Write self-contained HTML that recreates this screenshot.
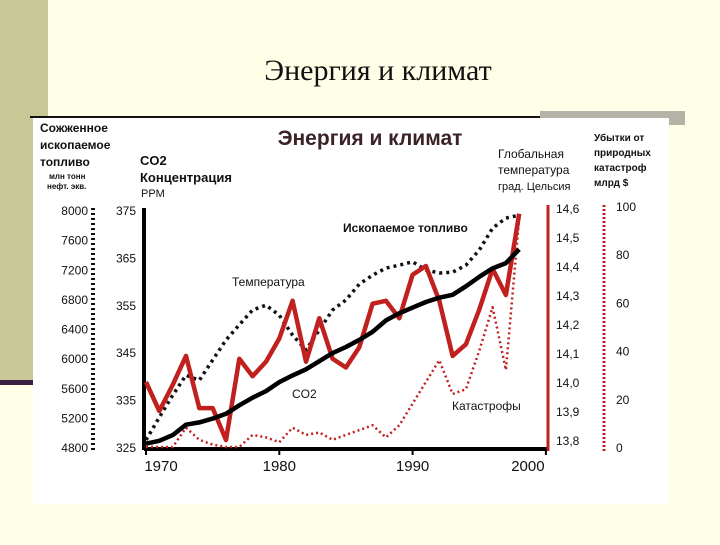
<!DOCTYPE html>
<html><head><meta charset="utf-8"><style>
body{margin:0;width:720px;height:540px;background:#FFFEE6;overflow:hidden;font-family:"Liberation Sans",sans-serif}
</style></head><body>
<svg width="720" height="540" xmlns="http://www.w3.org/2000/svg">
<rect x="0" y="0" width="48" height="382" fill="#C8C796"/>
<rect x="0" y="380" width="35" height="5" fill="#3A2040"/>
<text x="378" y="80" text-anchor="middle" font-family="Liberation Serif" font-size="30" fill="#111">Энергия и климат</text>
<rect x="540" y="111" width="145" height="14" fill="#B5B3A8"/>
<rect x="33" y="118" width="636" height="386" fill="#fff"/>
<line x1="30" y1="117" x2="540" y2="117" stroke="#111" stroke-width="2"/>
<g font-weight="bold" fill="#222"><text x="370" y="145" text-anchor="middle" font-size="21" fill="#3a2226">Энергия и климат</text></g>
<g font-size="12" font-weight="bold" fill="#111">
<text x="40" y="132">Сожженное</text><text x="40" y="149">ископаемое</text><text x="40" y="166">топливо</text>
<text x="49" y="179" font-size="8">млн тонн</text><text x="47" y="189" font-size="8">нефт. экв.</text>
<text x="140" y="165" font-size="13">CO2</text><text x="140" y="182" font-size="13">Концентрация</text><text x="141" y="197" font-size="11" font-weight="normal">PPM</text>
<text x="498" y="158" font-weight="normal">Глобальная</text><text x="498" y="174" font-weight="normal">температура</text><text x="498" y="190" font-weight="normal" font-size="11">град. Цельсия</text>
<text x="594" y="141" font-size="10">Убытки от</text><text x="594" y="156" font-size="10">природных</text><text x="594" y="171" font-size="10">катастроф</text><text x="594" y="186" font-size="10">млрд $</text>
</g>
<g id="axes"></g><g id="series"></g>
<g font-size="12" fill="#111">
<text x="343" y="232" font-weight="bold">Ископаемое топливо</text>
<text x="232" y="286">Температура</text>
<text x="292" y="398">CO2</text>
<text x="452" y="410">Катастрофы</text>
</g>
</svg>
<script>
const years=[1970,1971,1972,1973,1974,1975,1976,1977,1978,1979,1980,1981,1982,1983,1984,1985,1986,1987,1988,1989,1990,1991,1992,1993,1994,1995,1996,1997,1998];
const temp=[14.0,13.9,13.99,14.09,13.91,13.91,13.8,14.08,14.02,14.07,14.15,14.28,14.07,14.22,14.08,14.05,14.12,14.27,14.28,14.22,14.37,14.4,14.28,14.09,14.13,14.25,14.39,14.3,14.58];
const fuel=[4895,5200,5500,5770,5700,5975,6245,6450,6650,6715,6580,6310,6110,6380,6650,6785,7000,7120,7215,7255,7300,7190,7150,7160,7255,7460,7755,7890,7930];
const co2=[325.7,326.3,327.5,329.7,330.2,331,332,333.8,335.4,336.8,338.7,340.1,341.4,343.1,344.8,346.1,347.6,349.3,351.7,353.2,354.4,355.6,356.5,357.1,358.9,360.9,362.7,363.8,366.7];
const cat=[0,0,0,8,3,1,0,0,5,4,2,8,5,6,3,5,7,9,4,9,18,27,36,22,24,40,58,32,95];
const fuelTicks=[8000,7600,7200,6800,6400,6000,5600,5200,4800];
const co2Ticks=[375,365,355,345,335,325];
const tempTicks=[14.6,14.5,14.4,14.3,14.2,14.1,14.0,13.9,13.8];
const tempLabels=["14,6","14,5","14,4","14,3","14,2","14,1","14,0","13,9","13,8"];
const catTicks=[100,80,60,40,20,0];
const xTicks=[1970,1980,1990,2000];
const X=y=>146+(y-1970)*13.33;
const Yf=v=>447-(v-4800)*(237/3200);
const Yc=v=>447-(v-325)*(237/50);
const Yt=v=>440-(v-13.8)*290;
const Yk=v=>447-v*2.41;
const NS="http://www.w3.org/2000/svg";
function mk(t,a,p){const e=document.createElementNS(NS,t);for(const k in a)e.setAttribute(k,a[k]);p.appendChild(e);return e;}
const ax=document.getElementById('axes'),se=document.getElementById('series');
let l=mk('line',{x1:93,y1:208,x2:93,y2:452,stroke:'#111','stroke-width':4,'stroke-dasharray':'2 3'},ax);


l=mk('line',{x1:144,y1:208,x2:144,y2:450,stroke:'#000','stroke-width':4},ax);


l=mk('line',{x1:144,y1:449,x2:548,y2:449,stroke:'#000','stroke-width':4},ax);


l=mk('line',{x1:548,y1:205,x2:548,y2:451,stroke:'#C0201E','stroke-width':3},ax);


l=mk('line',{x1:604,y1:205,x2:604,y2:451,stroke:'#C0201E','stroke-width':3,'stroke-dasharray':'2 2'},ax);


function tick(x,y,txt,anchor,name,fs){const t=mk('text',{x:x,y:y,'text-anchor':anchor,'font-size':fs||12,fill:'#111'},ax);t.textContent=txt;

}
fuelTicks.forEach(v=>tick(88,Yf(v)+5,v,'end','fuel-tick-label'));
co2Ticks.forEach(v=>tick(136,Yc(v)+5,v,'end','co2-tick-label'));
tempTicks.forEach((v,i)=>tick(556,Yt(v)+5,tempLabels[i],'start','temp-tick-label'));
catTicks.forEach(v=>tick(616,Yk(v)+5,v,'start','catastrophe-tick-label'));
xTicks.forEach(v=>{tick(X(v)+(v==1970?15:v==2000?-18:0),471,v,'middle','x-tick-label',15);
const k=mk('line',{x1:X(v),y1:449,x2:X(v),y2:455,stroke:'#000','stroke-width':2},ax);

});
function path(vals,fy,attrs,name){const d=vals.map((v,i)=>(i?'L':'M')+X(years[i]).toFixed(1)+','+fy(v).toFixed(1)).join('');
const p=mk('path',Object.assign({d:d,fill:'none','stroke-linejoin':'round'},attrs),se);

}
path(cat,Yk,{stroke:'#C0201E','stroke-width':2.5,'stroke-dasharray':'2 3'},'catastrophe-line');
path(fuel,Yf,{stroke:'#111','stroke-width':3.5,'stroke-dasharray':'3 4'},'fuel-line');
path(temp,Yt,{stroke:'#C0201E','stroke-width':4.5},'temperature-line');
path(co2,Yc,{stroke:'#000','stroke-width':4.5},'co2-line');
</script>
</body></html>
